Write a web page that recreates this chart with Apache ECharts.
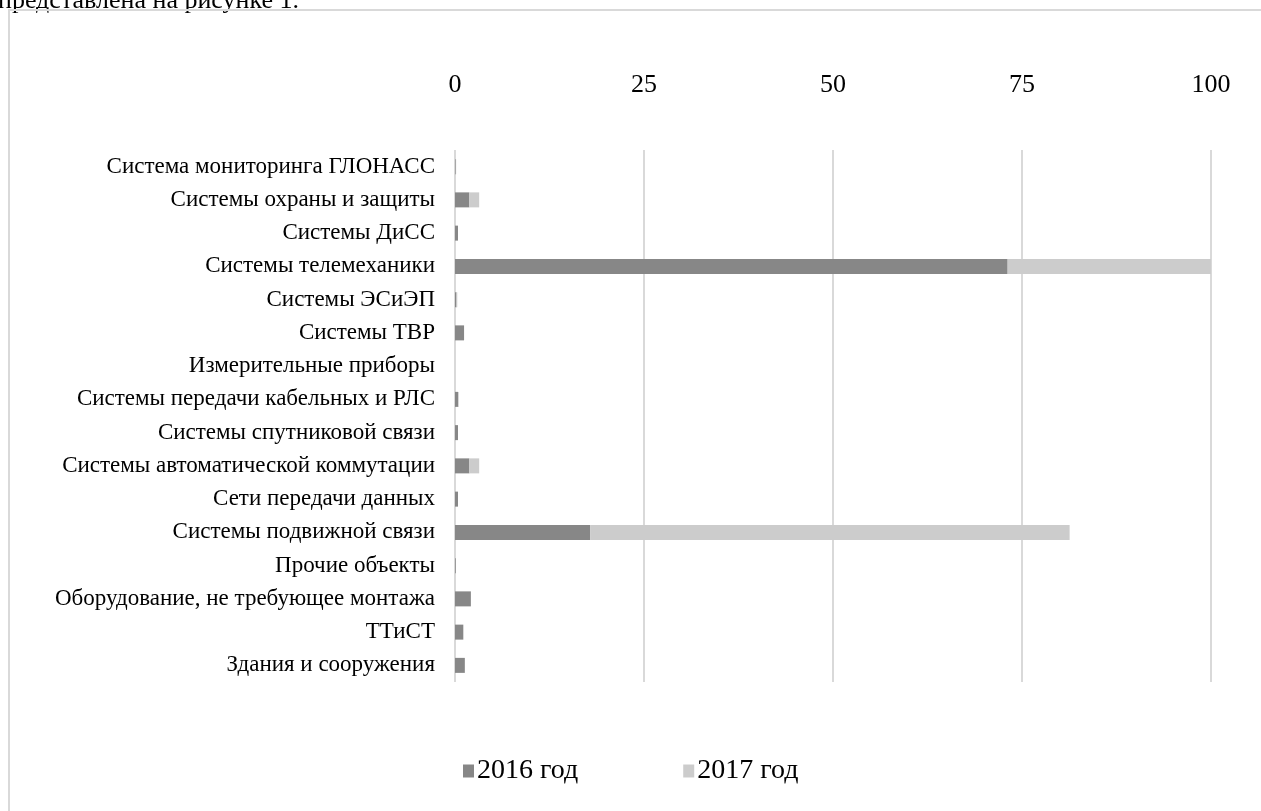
<!DOCTYPE html>
<html>
<head>
<meta charset="utf-8">
<script src="https://cdn.jsdelivr.net/npm/echarts@6/dist/echarts.min.js"></script>
<style>
html,body{margin:0;padding:0;background:#fff;}
#chart{width:1261px;height:811px;}
</style>
</head>
<body>
<div id="chart"></div>
<script>
const categories = [
  'Система мониторинга ГЛОНАСС',
  'Системы охраны и защиты',
  'Системы ДиСС',
  'Системы телемеханики',
  'Системы ЭСиЭП',
  'Системы ТВР',
  'Измерительные приборы',
  'Системы передачи кабельных и РЛС',
  'Системы спутниковой связи',
  'Системы автоматической коммутации',
  'Сети передачи данных',
  'Системы подвижной связи',
  'Прочие объекты',
  'Оборудование, не требующее монтажа',
  'ТТиСТ',
  'Здания и сооружения'
];
const values2016 = [0.1, 1.9, 0.4, 73.1, 0.2, 1.2, 0, 0.4, 0.4, 1.9, 0.4, 17.9, 0.1, 2.1, 1.1, 1.3];
const values2017 = [0.05, 1.3, 0, 26.9, 0.1, 0, 0, 0.1, 0, 1.3, 0, 63.4, 0, 0, 0, 0];
const seriesNames = ['2016 год', '2017 год'];
const xTicks = [0, 25, 50, 75, 100];

const chart = echarts.init(document.getElementById('chart'));
const serif = '"Liberation Serif", "Times New Roman", serif';
chart.setOption({
  animation: false,
  backgroundColor: '#ffffff',
  graphic: [
    {
      type: 'rect',
      shape: { x: 9, y: 10, width: 1300, height: 850 },
      style: { fill: 'none', stroke: '#d9d9d9', lineWidth: 2 },
      silent: true
    },
    {
      type: 'text',
      left: -2,
      top: -12,
      style: { text: 'представлена на рисунке 1.', font: '26px ' + serif, fill: '#000' },
      silent: true,
      z: -1
    }
  ],
  legend: {
    data: seriesNames,
    bottom: 21,
    left: 458,
    itemWidth: 11,
    itemHeight: 13,
    itemGap: 105,
    icon: 'rect',
    textStyle: { fontFamily: serif, fontSize: 28, color: '#000', padding: [0, 0, 0, -2] }
  },
  grid: { left: 455, right: 50, top: 150, bottom: 129, containLabel: false },
  xAxis: {
    type: 'value',
    position: 'top',
    min: xTicks[0],
    max: xTicks[xTicks.length - 1],
    interval: 25,
    axisLine: { show: false },
    axisTick: { show: false },
    axisLabel: { fontFamily: serif, fontSize: 26, color: '#000', margin: 52 },
    splitLine: { lineStyle: { color: '#d9d9d9', width: 2 } }
  },
  yAxis: {
    type: 'category',
    data: categories,
    inverse: true,
    axisLine: { show: false },
    axisTick: { show: false },
    axisLabel: { fontFamily: serif, fontSize: 23, color: '#000', margin: 20 }
  },
  series: [
    {
      name: seriesNames[0], type: 'bar', stack: 'total', data: values2016,
      barWidth: 15, itemStyle: { color: '#878787' }
    },
    {
      name: seriesNames[1], type: 'bar', stack: 'total', data: values2017,
      barWidth: 15, itemStyle: { color: '#cccccc' }
    }
  ]
});
</script>
</body>
</html>
